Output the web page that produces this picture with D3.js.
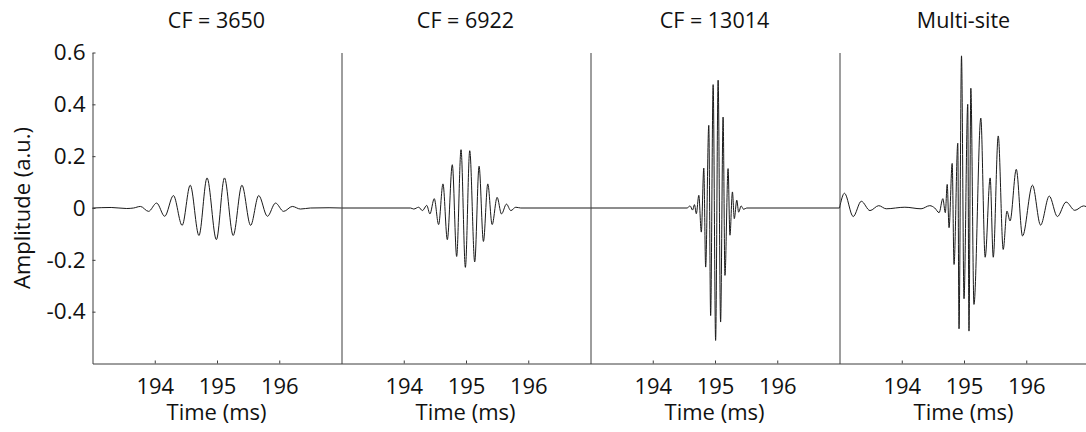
<!DOCTYPE html>
<html lang="en">
<head>
    <meta charset="UTF-8">
    <title>Waveforms by CF</title>
    <script src="https://d3js.org/d3.v7.min.js"></script>
    <style>
        body {
            margin: 0;
            background: #ffffff;
            font-family: "Open Sans", "Liberation Sans", sans-serif;
        }
        .signal {
            fill: none;
            stroke: #1a1a1a;
            stroke-width: 1;
        }
        .axis path, .axis line {
            stroke: #3c3c3c;
        }
        .axis text {
            font-family: "Open Sans", "Liberation Sans", sans-serif;
            font-size: 22.5px;
            fill: #111;
        }
        .x-axis text {
            font-size: 22px;
        }
        .title {
            font-size: 21.5px;
            fill: #111;
        }
        .label {
            font-size: 22px;
            fill: #111;
        }
    </style>
</head>
<body>
    <svg id="chart"></svg>

    <script>
        const titles = ["CF = 3650", "CF = 6922", "CF = 13014", "Multi-site"];
        const yTicks = [-0.4, -0.2, 0, 0.2, 0.4, 0.6];
        const xTicks = [194, 195, 196];

        // peaks and troughs (time in ms, amplitude in a.u.)
        const time3650 = [193.0, 193.3, 193.55, 193.66, 193.77, 193.90, 194.03, 194.16, 194.30, 194.44, 194.57, 194.71, 194.84, 194.99,
            195.12, 195.26, 195.40, 195.54, 195.67, 195.81, 195.94, 196.07, 196.21, 196.34, 196.5, 196.8, 197.0];
        const amp3650 = [0, 0.002, -0.002, 0, 0.006, -0.013, 0.019, -0.032, 0.048, -0.067, 0.088, -0.106, 0.116, -0.122,
            0.116, -0.106, 0.088, -0.067, 0.048, -0.032, 0.019, -0.013, 0.006, -0.004, 0, 0.001, 0];

        const time6922 = [193.0, 194.11, 194.16, 194.24, 194.30, 194.37, 194.42, 194.49, 194.56, 194.63, 194.70, 194.78, 194.85, 194.92,
            194.99, 195.06, 195.14, 195.21, 195.28, 195.35, 195.42, 195.50, 195.57, 195.65, 195.72, 195.80, 195.88, 197.0];
        const amp6922 = [0, 0, -0.004, 0.003, -0.010, 0.010, -0.023, 0.036, -0.064, 0.093, -0.122, 0.167, -0.187, 0.225,
            -0.229, 0.221, -0.208, 0.161, -0.129, 0.093, -0.064, 0.041, -0.023, 0.015, -0.010, 0.003, 0, 0];

        const time13014 = [193.0, 194.55, 194.60, 194.64, 194.67, 194.70, 194.74, 194.78, 194.82, 194.85, 194.90, 194.93, 194.97, 195.01,
            195.05, 195.09, 195.13, 195.16, 195.21, 195.24, 195.28, 195.31, 195.35, 195.38, 195.42, 195.46, 195.51, 197.0];
        const amp13014 = [0, 0, 0.008, -0.008, 0.013, -0.022, 0.049, -0.093, 0.154, -0.228, 0.319, -0.415, 0.476, -0.511,
            0.493, -0.440, 0.351, -0.260, 0.152, -0.105, 0.062, -0.041, 0.030, -0.016, 0.008, -0.005, 0, 0];

        const timeMulti = [193.0, 193.08, 193.22, 193.35, 193.49, 193.63, 193.75, 194.05, 194.31, 194.45, 194.53, 194.60, 194.66, 194.70,
            194.73, 194.76, 194.81, 194.84, 194.90, 194.92, 194.96, 195.00, 195.06, 195.08, 195.11, 195.16, 195.27, 195.34,
            195.42, 195.47, 195.55, 195.63, 195.69, 195.74, 195.84, 195.94, 196.10, 196.23, 196.37, 196.50, 196.64, 196.78,
            196.92, 197.0];
        const ampMulti = [0, 0.057, -0.033, 0.026, -0.010, 0.009, -0.003, 0.003, -0.003, 0.009, 0, -0.018, 0.036, -0.018,
            0.091, -0.076, 0.172, -0.218, 0.250, -0.466, 0.587, -0.350, 0.400, -0.475, 0.462, -0.372, 0.347, -0.190,
            0.116, -0.190, 0.278, -0.160, -0.012, -0.050, 0.149, -0.108, 0.088, -0.066, 0.046, -0.033, 0.023, -0.009,
            0.008, 0];

        const series = [
            [time3650, amp3650],
            [time6922, amp6922],
            [time13014, amp13014],
            [timeMulti, ampMulti]
        ];

        const width = 1086, height = 432;
        const panelLeft = 92, panelWidth = 249;
        const plotTop = 52, plotBottom = 363;

        const svg = d3.select("#chart")
            .attr("width", width)
            .attr("height", height);

        const y = d3.scaleLinear()
            .domain([-0.6, 0.6])
            .range([plotBottom, plotTop]);

        series.forEach((s, i) => {
            const x0 = panelLeft + i * panelWidth;
            const x = d3.scaleLinear()
                .domain([193, 197])
                .range([x0, x0 + panelWidth]);

            const g = svg.append("g").attr("transform", "translate(0.5,0.5)");

            // signal
            const pts = s[0].map((t, k) => [t, s[1][k]]);
            g.append("path")
                .attr("class", "signal")
                .attr("d", d3.line()
                    .x(d => x(d[0]))
                    .y(d => y(d[1]))
                    .curve(d3.curveMonotoneX)(pts));

            // y axis (labels only on the first panel)
            const yAxis = d3.axisLeft(y)
                .tickValues(i === 0 ? yTicks : [])
                .tickSizeInner(-3)
                .tickSizeOuter(0)
                .tickPadding(7)
                .tickFormat(d => String(d));
            g.append("g")
                .attr("class", "axis")
                .attr("transform", `translate(${x0},0)`)
                .call(yAxis);

            // x axis
            g.append("g")
                .attr("class", "axis x-axis")
                .attr("transform", `translate(0,${plotBottom})`)
                .call(d3.axisBottom(x)
                    .tickValues(xTicks)
                    .tickSizeInner(-3)
                    .tickSizeOuter(0)
                    .tickPadding(15)
                    .tickFormat(d => String(d)));

            svg.append("text")
                .attr("class", "title")
                .attr("x", x0 + panelWidth / 2)
                .attr("y", 28)
                .attr("text-anchor", "middle")
                .text(titles[i]);

            svg.append("text")
                .attr("class", "label")
                .attr("x", x0 + panelWidth / 2)
                .attr("y", 420)
                .attr("text-anchor", "middle")
                .text("Time (ms)");
        });

        svg.append("text")
            .attr("class", "label")
            .attr("transform", "translate(30,208) rotate(-90)")
            .attr("text-anchor", "middle")
            .text("Amplitude (a.u.)");
    </script>
</body>
</html>
